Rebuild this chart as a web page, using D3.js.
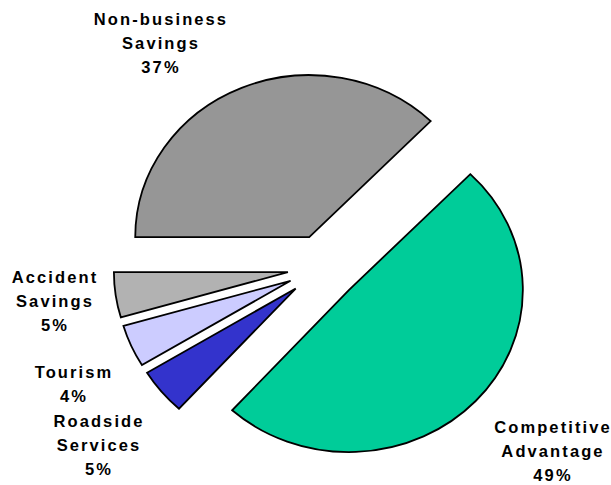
<!DOCTYPE html>
<html>
<head>
<meta charset="utf-8">
<script src="https://cdn.jsdelivr.net/npm/d3@7"></script>
<style>
  body { margin: 0; background: #fff; }
  text { font-family: "Liberation Sans", Arial, sans-serif; font-weight: bold; font-size: 16.5px; letter-spacing: 2.1px; fill: #000; }
</style>
</head>
<body>
<div id="chart"></div>
<script>
// slices, clockwise from 9 o'clock
var categories = ["Non-business Savings", "Competitive Advantage", "Roadside Services", "Tourism", "Accident Savings"];
var values = [37.3, 49.4, 4.6, 4.2, 4.5];
var colors = ["#969696", "#00CC99", "#3333CC", "#CCCCFF", "#B2B2B2"];
var labelLines = [["Non-business", "Savings"], ["Competitive", "Advantage"], ["Roadside", "Services"], ["Tourism"], ["Accident", "Savings"]];

var width = 611, height = 485;
var cx = 323, cy = 267.5;
var radius = 162, stretchX = 174 / 162;
var explode = 33;
// where the labels sit (first baseline), as placed in the original
var labelPos = [[161, 25], [553, 433], [99, 427], [74, 378], [55, 283]];

var svg = d3.select("#chart").append("svg")
    .attr("width", width)
    .attr("height", height);

var pie = d3.pie().sort(null).value(function(d) { return d; })
    .startAngle(-Math.PI / 2).endAngle(1.5 * Math.PI);
var arc = d3.arc().innerRadius(0).outerRadius(radius);

var g = svg.append("g")
    .attr("transform", "translate(" + cx + "," + cy + ") scale(" + stretchX + ",1)");

g.selectAll("path")
    .data(pie(values))
    .enter().append("path")
    .attr("transform", function(d) {
        var mid = (d.startAngle + d.endAngle) / 2;
        return "translate(" + (explode * Math.sin(mid)) + "," + (-explode * Math.cos(mid)) + ")";
    })
    .attr("d", arc)
    .attr("fill", function(d, i) { return colors[i]; })
    .attr("stroke", "#000")
    .attr("stroke-width", 1.8)
    .attr("stroke-linejoin", "miter")
    .attr("vector-effect", "non-scaling-stroke");

// labels
categories.forEach(function(c, i) {
    var lines = labelLines[i].concat([Math.round(values[i]) + "%"]);
    var t = svg.append("text")
        .attr("text-anchor", "middle");
    lines.forEach(function(l, j) {
        t.append("tspan")
            .attr("x", labelPos[i][0])
            .attr("y", labelPos[i][1] + j * 24)
            .text(l);
    });
});
</script>
</body>
</html>
